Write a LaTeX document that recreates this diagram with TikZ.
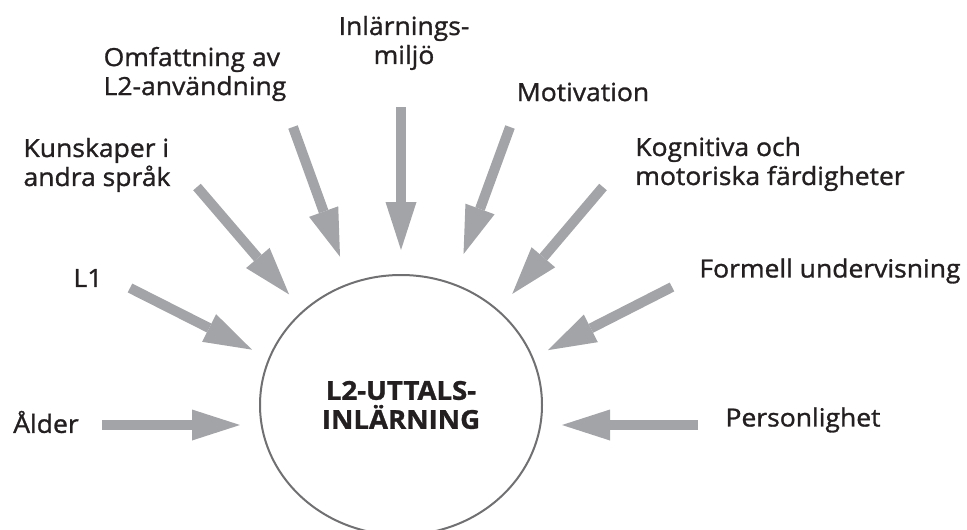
\documentclass[tikz,border=0pt]{standalone}
\usepackage{fontspec}
\setmainfont{Open Sans}[FakeStretch=1.06, FakeBold=1.2]
\usetikzlibrary{arrows.meta,shapes.geometric}
\definecolor{pilgraa}{RGB}{163,164,168}
\definecolor{ramgraa}{RGB}{112,112,114}
\definecolor{textsvart}{RGB}{35,31,32}
\tikzset{
  pil/.style={draw=pilgraa, line width=10pt, -{Triangle[length=48pt,width=31pt,line width=0pt]}},
  etikett/.style={text=textsvart, font=\fontsize{25}{29}\selectfont, inner sep=0pt},
}
\begin{document}
\begin{tikzpicture}[x=1pt, y=-1pt]
\useasboundingbox (0,0) rectangle (967,530);
% centre
\node[ellipse, draw=ramgraa, line width=2pt, minimum width=282pt, minimum height=260pt, align=center, text=textsvart, font=\bfseries\fontsize{26}{29}\selectfont] (uttal) at (401,405) {L2-UTTALS-\\INLÄRNING};
\coordinate (nav) at (401,425);
% factors
\node[etikett] (alder) at (46,422) {Ålder};
\node[etikett] (l1) at (88,278) {L1};
\node[etikett, align=left] (kunskap) at (97,165) {Kunskaper i\\andra språk};
\node[etikett, align=left] (omfatt) at (195,74) {Omfattning av\\L2-användning};
\node[etikett, align=center] (miljo) at (404,43) {Inlärnings-\\miljö};
\node[etikett] (motiv) at (583,92) {Motivation};
\node[etikett, align=left] (kogn) at (770,164) {Kognitiva och\\motoriska färdigheter};
\node[etikett] (formell) at (830,271) {Formell undervisning};
\node[etikett] (person) at (803,420) {Personlighet};
% arrow tails
\coordinate (s1) at (102,425);
\coordinate (s2) at (130,288);
\coordinate (s3) at (197,187);
\coordinate (s4) at (293,127);
\coordinate (s5) at (401,107);
\coordinate (s6) at (510,127);
\coordinate (s7) at (603,187);
\coordinate (s8) at (672,287);
\coordinate (s9) at (698,425);
% arrows
\draw[pil, shorten >=161pt] (s1) -- (nav);
\draw[pil, shorten >=167pt] (s2) -- (nav);
\draw[pil, shorten >=172pt] (s3) -- (nav);
\draw[pil, shorten >=179pt] (s4) -- (nav);
\draw[pil, shorten >=175pt] (s5) -- (nav);
\draw[pil, shorten >=182pt] (s6) -- (nav);
\draw[pil, shorten >=172pt] (s7) -- (nav);
\draw[pil, shorten >=165pt] (s8) -- (nav);
\draw[pil, shorten >=161pt] (s9) -- (nav);
\end{tikzpicture}
\end{document}
